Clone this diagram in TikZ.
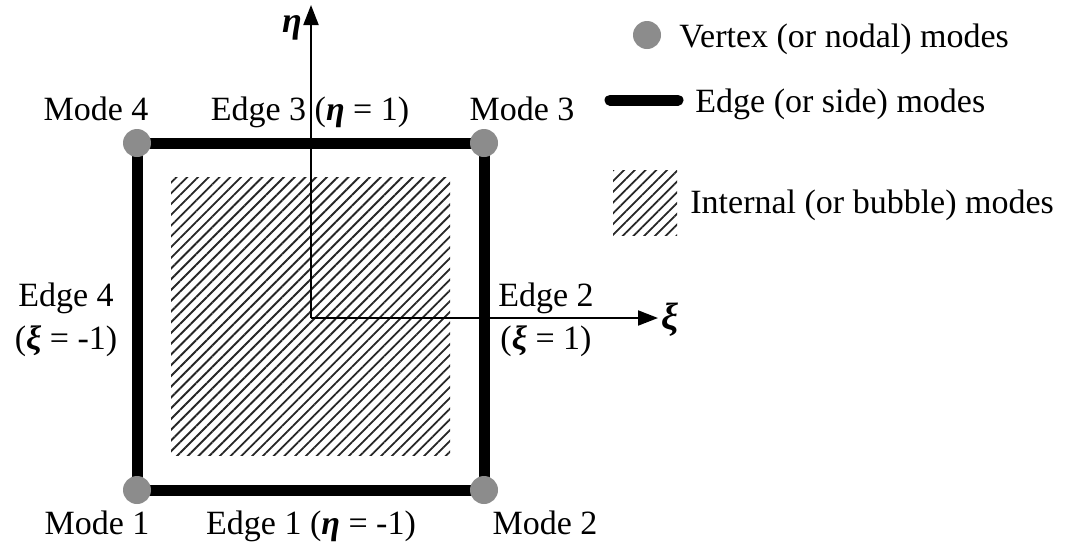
\documentclass[tikz,border=0pt]{standalone}
\usepackage{fontspec}
\setmainfont{Liberation Serif}
\usetikzlibrary{arrows.meta, patterns.meta}

\newcommand{\bivar}[1]{\textbf{\textit{#1}}}

\begin{document}
\begin{tikzpicture}[x=0.5pt, y=-0.5pt,
  font=\fontsize{17}{21}\selectfont,
  vertex/.style={circle, fill=black!45, inner sep=0pt, minimum size=14pt},
  edgeline/.style={line width=5.5pt},
  hatch/.style={pattern={Lines[angle=45, distance=3.8pt, line width=0.9pt]}, pattern color=black!85},
  axis/.style={line width=1pt, -{Triangle[length=10pt, width=7.5pt]}},
  lbl/.style={inner sep=0pt, anchor=base}]
\useasboundingbox (0,0) rectangle (1067,547);

% Internal modes
\fill[hatch] (171,177) rectangle (450,455);

% Element corners
\coordinate (c1) at (137,490);
\coordinate (c2) at (484,490);
\coordinate (c3) at (484,143);
\coordinate (c4) at (137,143);

% Edges
\draw[edgeline] (c1) -- (c2) -- (c3) -- (c4) -- cycle;

% Vertices
\node[vertex] (v1) at (c1) {};
\node[vertex] (v2) at (c2) {};
\node[vertex] (v3) at (c3) {};
\node[vertex] (v4) at (c4) {};

% Axes
\coordinate (o) at (311,318);
\coordinate (etatip) at (311,5);
\coordinate (xitip) at (658,318);
\draw[axis] (o) -- (etatip);
\draw[axis] (o) -- (xitip);
\node[lbl, font=\fontsize{18}{21}\selectfont] (eta) at (292,32) {\bivar{η}};
\node[font=\fontsize{19}{21}\selectfont] (xi) at (670,320) {\bivar{ξ}};

% Labels
\node[lbl] (mode4) at (96,120) {Mode 4};
\node[lbl] (edge3) at (310,120) {Edge 3 (\bivar{η} = 1)};
\node[lbl] (mode3) at (522,120) {Mode 3};
\node[lbl] (mode1) at (97,534) {Mode 1};
\node[lbl] (edge1) at (311,534) {Edge 1 (\bivar{η} = -1)};
\node[lbl] (mode2) at (545,534) {Mode 2};
\node[lbl] (edge4) at (66,306) {Edge 4};
\node[lbl] (edge4val) at (66,349) {(\bivar{ξ} = -1)};
\node[lbl] (edge2) at (546,306) {Edge 2};
\node[lbl] (edge2val) at (546,349) {(\bivar{ξ} = 1)};

% Legend
\node[vertex] (legvertex) at (647,35) {};
\node[lbl, anchor=base west] (legvertextext) at (679,47) {Vertex (or nodal) modes};
\coordinate (legedgea) at (610,100);
\coordinate (legedgeb) at (678,100);
\draw[edgeline, line cap=round] (legedgea) -- (legedgeb);
\node[lbl, anchor=base west] (legedgetext) at (695,112) {Edge (or side) modes};
\fill[hatch] (613,170) rectangle (677,235);
\node[lbl, anchor=base west] (leginttext) at (690,213) {Internal (or bubble) modes};

\end{tikzpicture}
\end{document}
